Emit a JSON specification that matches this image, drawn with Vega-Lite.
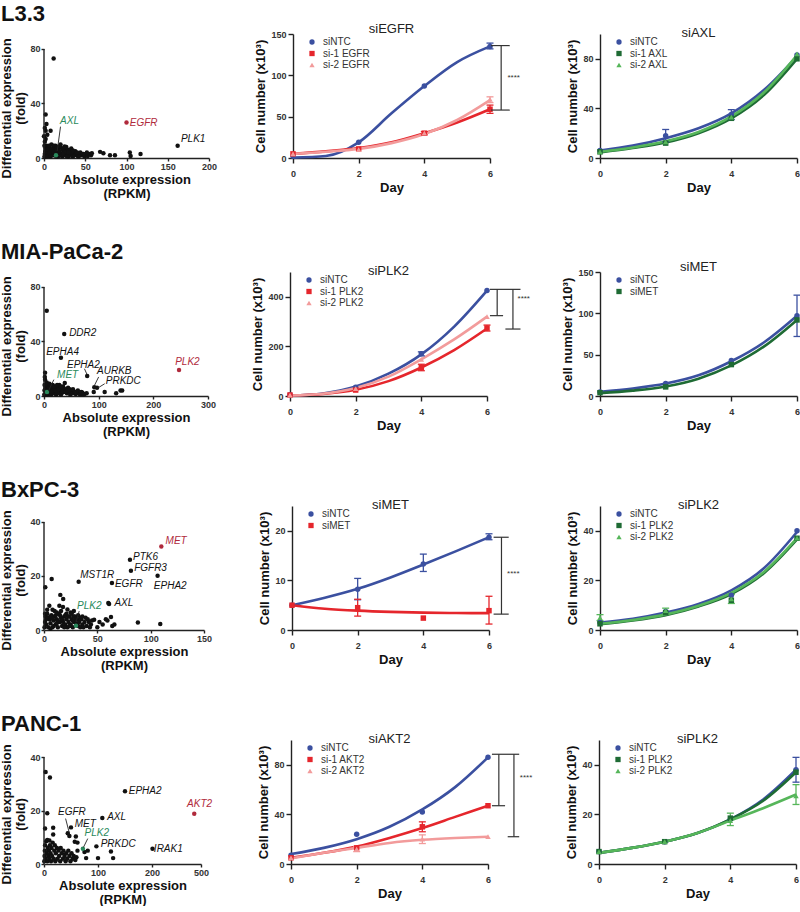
{
"$schema": "https://vega.github.io/schema/vega-lite/v6.json",
"padding": {"left": 0, "top": 3, "right": 0, "bottom": 0},
"config": {
 "font": "Liberation Sans",
 "view": {"stroke": null},
 "axis": {"labelFont": "Liberation Sans", "labelFontSize": 9, "labelFontWeight": "bold", "labelColor": "#333333", "titleFont": "Liberation Sans", "titleFontSize": 13, "titleFontWeight": "bold", "titleColor": "#111111", "domainColor": "#222222", "domainWidth": 1.4, "tickColor": "#222222", "tickWidth": 1.4, "tickSize": 4, "grid": false, "labelPadding": 2, "titlePadding": 3, "titleLineHeight": 14, "labelFlush": false, "labelOverlap": false},
 "title": {"font": "Liberation Sans", "fontSize": 13, "fontWeight": "normal", "color": "#222222", "offset": -6},
 "legend": {"labelFont": "Liberation Sans", "labelFontSize": 10, "labelColor": "#333333", "symbolSize": 28, "rowPadding": 1.5, "padding": 0, "labelOffset": 6},
 "text": {"font": "Liberation Sans"}
},
"datasets": {
 "s1": [{"x":0.5,"y":1,"r":"o"},{"x":1,"y":3,"r":"o"},{"x":1.5,"y":5,"r":"o"},{"x":2,"y":7,"r":"o"},{"x":2.5,"y":2,"r":"o"},{"x":3,"y":9,"r":"o"},{"x":4,"y":4,"r":"o"},{"x":5,"y":1.5,"r":"o"},{"x":5,"y":6,"r":"o"},{"x":6,"y":3,"r":"o"},{"x":7,"y":8,"r":"o"},{"x":8,"y":1,"r":"o"},{"x":8,"y":5,"r":"o"},{"x":9,"y":10,"r":"o"},{"x":10,"y":3,"r":"o"},{"x":11,"y":7,"r":"o"},{"x":12,"y":2,"r":"o"},{"x":13,"y":5,"r":"o"},{"x":14,"y":9,"r":"o"},{"x":15,"y":1,"r":"o"},{"x":16,"y":4,"r":"o"},{"x":17,"y":7,"r":"o"},{"x":18,"y":2,"r":"o"},{"x":19,"y":5,"r":"o"},{"x":20,"y":8,"r":"o"},{"x":21,"y":3,"r":"o"},{"x":22,"y":1,"r":"o"},{"x":23,"y":6,"r":"o"},{"x":24,"y":4,"r":"o"},{"x":25,"y":7,"r":"o"},{"x":26,"y":2,"r":"o"},{"x":27,"y":5,"r":"o"},{"x":28,"y":3,"r":"o"},{"x":29,"y":6,"r":"o"},{"x":30,"y":1,"r":"o"},{"x":31,"y":4,"r":"o"},{"x":32,"y":2.5,"r":"o"},{"x":33,"y":5,"r":"o"},{"x":34,"y":3,"r":"o"},{"x":35,"y":1,"r":"o"},{"x":36,"y":4,"r":"o"},{"x":37,"y":2,"r":"o"},{"x":39,"y":3,"r":"o"},{"x":41,"y":1.5,"r":"o"},{"x":43,"y":3.5,"r":"o"},{"x":45,"y":2,"r":"o"},{"x":47,"y":3,"r":"o"},{"x":49,"y":1,"r":"o"},{"x":51,"y":2.5,"r":"o"},{"x":53,"y":1.5,"r":"o"},{"x":55,"y":3,"r":"o"},{"x":57,"y":2,"r":"o"},{"x":3,"y":1,"r":"o"},{"x":9,"y":2,"r":"o"},{"x":15,"y":6,"r":"o"},{"x":20,"y":2.5,"r":"o"},{"x":25,"y":4,"r":"o"},{"x":4,"y":6.5,"r":"o"},{"x":6,"y":9,"r":"o"},{"x":10,"y":6,"r":"o"},{"x":12,"y":9,"r":"o"},{"x":16,"y":8,"r":"o"},{"x":18,"y":4,"r":"o"},{"x":22,"y":7,"r":"o"},{"x":24,"y":2,"r":"o"},{"x":27,"y":8,"r":"o"},{"x":30,"y":4,"r":"o"},{"x":33,"y":7,"r":"o"},{"x":38,"y":5,"r":"o"},{"x":40,"y":4,"r":"o"},{"x":44,"y":4,"r":"o"},{"x":48,"y":3,"r":"o"},{"x":52,"y":4,"r":"o"},{"x":7,"y":4,"r":"o"},{"x":11,"y":4.5,"r":"o"},{"x":14,"y":3.5,"r":"o"},{"x":17,"y":1,"r":"o"},{"x":19,"y":8.5,"r":"o"},{"x":23,"y":3,"r":"o"},{"x":28,"y":1,"r":"o"},{"x":35,"y":5.5,"r":"o"},{"x":42,"y":1,"r":"o"},{"x":0.5,"y":9,"r":"o"},{"x":1,"y":12,"r":"o"},{"x":2,"y":14,"r":"o"},{"x":0,"y":16,"r":"o"},{"x":2,"y":20,"r":"o"},{"x":1,"y":22,"r":"o"},{"x":3,"y":25,"r":"o"},{"x":2,"y":32,"r":"o"},{"x":4,"y":17,"r":"o"},{"x":8,"y":20,"r":"o"},{"x":20,"y":10,"r":"o"},{"x":25,"y":8.5,"r":"o"},{"x":58,"y":3.5,"r":"o"},{"x":68,"y":4.5,"r":"o"},{"x":72,"y":3.5,"r":"o"},{"x":80,"y":2,"r":"o"},{"x":86,"y":2,"r":"o"},{"x":104,"y":4,"r":"o"},{"x":105,"y":1.5,"r":"o"},{"x":117,"y":3,"r":"o"},{"x":162,"y":9,"r":"o"},{"x":11.7,"y":73,"r":"o"},{"x":100,"y":26,"r":"t"},{"x":14.5,"y":2,"r":"c"}],
 "s1l": [{"g":"AXL","lx":19.5,"ly":27,"r":"c"},{"g":"EGFR","lx":104,"ly":26,"r":"t"},{"g":"PLK1","lx":166,"ly":14,"r":"o"}],
 "s1k": [{"x1":20,"y1":23,"x2":16,"y2":5}],
 "s2": [{"x":0.5,"y":1,"r":"o"},{"x":1,"y":4,"r":"o"},{"x":1,"y":8,"r":"o"},{"x":2,"y":12,"r":"o"},{"x":1.5,"y":14,"r":"o"},{"x":2,"y":17,"r":"o"},{"x":3,"y":6,"r":"o"},{"x":4,"y":2,"r":"o"},{"x":5,"y":10,"r":"o"},{"x":6,"y":5,"r":"o"},{"x":7,"y":1,"r":"o"},{"x":8,"y":7,"r":"o"},{"x":9,"y":3,"r":"o"},{"x":10,"y":9,"r":"o"},{"x":12,"y":5,"r":"o"},{"x":13,"y":1,"r":"o"},{"x":14,"y":6,"r":"o"},{"x":15,"y":3,"r":"o"},{"x":16,"y":8,"r":"o"},{"x":18,"y":2,"r":"o"},{"x":19,"y":5,"r":"o"},{"x":20,"y":7,"r":"o"},{"x":22,"y":1,"r":"o"},{"x":23,"y":4,"r":"o"},{"x":25,"y":6,"r":"o"},{"x":26,"y":2,"r":"o"},{"x":28,"y":8,"r":"o"},{"x":29,"y":4,"r":"o"},{"x":30,"y":6,"r":"o"},{"x":32,"y":2,"r":"o"},{"x":33,"y":5,"r":"o"},{"x":35,"y":7,"r":"o"},{"x":36,"y":3,"r":"o"},{"x":38,"y":9.5,"r":"o"},{"x":40,"y":5,"r":"o"},{"x":42,"y":2,"r":"o"},{"x":44,"y":6,"r":"o"},{"x":46,"y":3,"r":"o"},{"x":48,"y":1,"r":"o"},{"x":50,"y":4,"r":"o"},{"x":52,"y":2,"r":"o"},{"x":55,"y":3,"r":"o"},{"x":58,"y":1.5,"r":"o"},{"x":60,"y":3,"r":"o"},{"x":63,"y":2,"r":"o"},{"x":66,"y":1,"r":"o"},{"x":70,"y":2.5,"r":"o"},{"x":74,"y":1.5,"r":"o"},{"x":78,"y":2,"r":"o"},{"x":3,"y":1,"r":"o"},{"x":11,"y":2,"r":"o"},{"x":17,"y":4,"r":"o"},{"x":24,"y":3,"r":"o"},{"x":31,"y":1,"r":"o"},{"x":37,"y":5,"r":"o"},{"x":45,"y":4,"r":"o"},{"x":2,"y":5,"r":"o"},{"x":4,"y":8,"r":"o"},{"x":6,"y":3,"r":"o"},{"x":9,"y":6,"r":"o"},{"x":11,"y":8,"r":"o"},{"x":14,"y":3,"r":"o"},{"x":17,"y":7,"r":"o"},{"x":21,"y":4,"r":"o"},{"x":24,"y":8,"r":"o"},{"x":27,"y":5,"r":"o"},{"x":31,"y":7,"r":"o"},{"x":34,"y":3,"r":"o"},{"x":39,"y":3,"r":"o"},{"x":43,"y":4,"r":"o"},{"x":47,"y":5,"r":"o"},{"x":53,"y":5,"r":"o"},{"x":57,"y":3,"r":"o"},{"x":62,"y":4,"r":"o"},{"x":68,"y":3,"r":"o"},{"x":72,"y":1,"r":"o"},{"x":91,"y":3,"r":"o"},{"x":92,"y":6.5,"r":"o"},{"x":97,"y":6,"r":"o"},{"x":111,"y":3,"r":"o"},{"x":132,"y":2,"r":"o"},{"x":140,"y":4,"r":"o"},{"x":143,"y":4,"r":"o"},{"x":5,"y":62.6,"r":"o"},{"x":37,"y":45.5,"r":"o"},{"x":31,"y":28,"r":"o"},{"x":79,"y":14.7,"r":"o"},{"x":247,"y":19,"r":"t"},{"x":5.5,"y":3,"r":"c"}],
 "s2l": [{"g":"DDR2","lx":46,"ly":46,"r":"o"},{"g":"EPHA4","lx":4,"ly":32,"r":"o"},{"g":"EPHA2","lx":42,"ly":22.5,"r":"o"},{"g":"AURKB","lx":97,"ly":18.5,"r":"o"},{"g":"PRKDC","lx":113,"ly":11,"r":"o"},{"g":"MET","lx":24,"ly":15.5,"r":"c"},{"g":"PLK2","lx":240,"ly":25,"r":"t"}],
 "s2k": [{"x1":74,"y1":20,"x2":79,"y2":15.5},{"x1":100,"y1":14,"x2":92,"y2":7.5},{"x1":111,"y1":9,"x2":99,"y2":6},{"x1":18,"y1":12,"x2":8,"y2":3.5}],
 "s3": [{"x":0.5,"y":1,"r":"o"},{"x":1,"y":3,"r":"o"},{"x":1.5,"y":5,"r":"o"},{"x":2,"y":2,"r":"o"},{"x":3,"y":6,"r":"o"},{"x":4,"y":1,"r":"o"},{"x":5,"y":4,"r":"o"},{"x":6,"y":2.5,"r":"o"},{"x":7,"y":5.5,"r":"o"},{"x":8,"y":1,"r":"o"},{"x":9,"y":3.5,"r":"o"},{"x":10,"y":5,"r":"o"},{"x":11,"y":2,"r":"o"},{"x":12,"y":4,"r":"o"},{"x":13,"y":1,"r":"o"},{"x":14,"y":6,"r":"o"},{"x":15,"y":3,"r":"o"},{"x":16,"y":4.5,"r":"o"},{"x":17,"y":1.5,"r":"o"},{"x":18,"y":3,"r":"o"},{"x":19,"y":5,"r":"o"},{"x":20,"y":2,"r":"o"},{"x":21,"y":4,"r":"o"},{"x":22,"y":1,"r":"o"},{"x":23,"y":3,"r":"o"},{"x":24,"y":5,"r":"o"},{"x":25,"y":2,"r":"o"},{"x":26,"y":4,"r":"o"},{"x":27,"y":1,"r":"o"},{"x":28,"y":3,"r":"o"},{"x":29,"y":5,"r":"o"},{"x":30,"y":2.5,"r":"o"},{"x":31,"y":4,"r":"o"},{"x":32,"y":1.5,"r":"o"},{"x":33,"y":3,"r":"o"},{"x":35,"y":4,"r":"o"},{"x":36,"y":2,"r":"o"},{"x":38,"y":3,"r":"o"},{"x":40,"y":1.5,"r":"o"},{"x":42,"y":3,"r":"o"},{"x":44,"y":2,"r":"o"},{"x":47,"y":3.8,"r":"o"},{"x":50,"y":1,"r":"o"},{"x":52,"y":3,"r":"o"},{"x":55,"y":2,"r":"o"},{"x":58,"y":4,"r":"o"},{"x":59.5,"y":3.5,"r":"o"},{"x":62.8,"y":4.8,"r":"o"},{"x":64,"y":1.5,"r":"o"},{"x":66,"y":2,"r":"o"},{"x":88,"y":2.8,"r":"o"},{"x":109,"y":2.2,"r":"o"},{"x":1.2,"y":15.8,"r":"o"},{"x":7.2,"y":18.9,"r":"o"},{"x":15.3,"y":13,"r":"o"},{"x":18,"y":11.5,"r":"o"},{"x":14.4,"y":9,"r":"o"},{"x":17.8,"y":8.5,"r":"o"},{"x":22,"y":7.6,"r":"o"},{"x":10,"y":7,"r":"o"},{"x":5,"y":9,"r":"o"},{"x":3,"y":7.5,"r":"o"},{"x":25,"y":6.5,"r":"o"},{"x":8,"y":7.5,"r":"o"},{"x":2,"y":4,"r":"o"},{"x":6,"y":0.5,"r":"o"},{"x":12,"y":2.5,"r":"o"},{"x":20,"y":5.5,"r":"o"},{"x":27,"y":3.5,"r":"o"},{"x":34,"y":1,"r":"o"},{"x":1,"y":6,"r":"o"},{"x":4,"y":4.5,"r":"o"},{"x":6,"y":5,"r":"o"},{"x":8,"y":4.2,"r":"o"},{"x":9,"y":1.5,"r":"o"},{"x":11,"y":5.5,"r":"o"},{"x":13,"y":3.5,"r":"o"},{"x":15,"y":5.5,"r":"o"},{"x":17,"y":3.8,"r":"o"},{"x":19,"y":1,"r":"o"},{"x":21,"y":6,"r":"o"},{"x":23,"y":5,"r":"o"},{"x":24,"y":1.5,"r":"o"},{"x":26,"y":6,"r":"o"},{"x":28,"y":5,"r":"o"},{"x":30,"y":4.2,"r":"o"},{"x":32,"y":5.5,"r":"o"},{"x":34,"y":4.5,"r":"o"},{"x":36,"y":5,"r":"o"},{"x":37,"y":1,"r":"o"},{"x":39,"y":4.5,"r":"o"},{"x":41,"y":4,"r":"o"},{"x":43,"y":1,"r":"o"},{"x":45,"y":3.5,"r":"o"},{"x":16,"y":7,"r":"o"},{"x":12,"y":6.5,"r":"o"},{"x":28,"y":7,"r":"o"},{"x":80.6,"y":26,"r":"o"},{"x":81.5,"y":21.9,"r":"o"},{"x":106.5,"y":20.1,"r":"o"},{"x":32.5,"y":17.9,"r":"o"},{"x":63.7,"y":17.4,"r":"o"},{"x":60.3,"y":10,"r":"o"},{"x":61,"y":9.6,"r":"o"},{"x":110,"y":30.9,"r":"t"},{"x":30,"y":1.6,"r":"c"}],
 "s3l": [{"g":"MET","lx":114,"ly":33,"r":"t"},{"g":"PTK6","lx":83.5,"ly":27,"r":"o"},{"g":"FGFR3","lx":84.5,"ly":23,"r":"o"},{"g":"EPHA2","lx":103,"ly":16.3,"r":"o"},{"g":"MST1R","lx":34,"ly":20.5,"r":"o"},{"g":"EGFR","lx":66.5,"ly":17,"r":"o"},{"g":"AXL","lx":66,"ly":10,"r":"o"},{"g":"PLK2","lx":31,"ly":9,"r":"c"}],
 "s3k": [{"x1":33,"y1":7,"x2":30,"y2":3}],
 "s4": [{"x":0.5,"y":1,"r":"o"},{"x":1,"y":3,"r":"o"},{"x":1.5,"y":5,"r":"o"},{"x":2,"y":7,"r":"o"},{"x":3,"y":2,"r":"o"},{"x":4,"y":8.5,"r":"o"},{"x":5,"y":4,"r":"o"},{"x":6,"y":1,"r":"o"},{"x":7,"y":6,"r":"o"},{"x":8,"y":3,"r":"o"},{"x":9,"y":5,"r":"o"},{"x":10,"y":2,"r":"o"},{"x":11,"y":7,"r":"o"},{"x":12,"y":4,"r":"o"},{"x":13,"y":1,"r":"o"},{"x":14,"y":6,"r":"o"},{"x":15,"y":3,"r":"o"},{"x":16,"y":8,"r":"o"},{"x":18,"y":2,"r":"o"},{"x":19,"y":5,"r":"o"},{"x":20,"y":7,"r":"o"},{"x":21,"y":1,"r":"o"},{"x":22,"y":4,"r":"o"},{"x":24,"y":6,"r":"o"},{"x":25,"y":2,"r":"o"},{"x":27,"y":5,"r":"o"},{"x":28,"y":3,"r":"o"},{"x":30,"y":1,"r":"o"},{"x":31,"y":6,"r":"o"},{"x":33,"y":4,"r":"o"},{"x":35,"y":2,"r":"o"},{"x":36,"y":5,"r":"o"},{"x":38,"y":3,"r":"o"},{"x":40,"y":1,"r":"o"},{"x":41,"y":4,"r":"o"},{"x":43,"y":2,"r":"o"},{"x":45,"y":5,"r":"o"},{"x":47,"y":3,"r":"o"},{"x":49,"y":1,"r":"o"},{"x":51,"y":4,"r":"o"},{"x":53,"y":2,"r":"o"},{"x":55,"y":3,"r":"o"},{"x":58,"y":1.5,"r":"o"},{"x":60,"y":2.5,"r":"o"},{"x":62,"y":5,"r":"o"},{"x":3,"y":34.4,"r":"o"},{"x":11,"y":32.4,"r":"o"},{"x":6,"y":19,"r":"o"},{"x":2,"y":13.3,"r":"o"},{"x":17,"y":13.6,"r":"o"},{"x":17,"y":11,"r":"o"},{"x":6,"y":9,"r":"o"},{"x":10,"y":8.8,"r":"o"},{"x":47,"y":10.5,"r":"o"},{"x":59,"y":10.3,"r":"o"},{"x":62,"y":8,"r":"o"},{"x":57,"y":8.3,"r":"o"},{"x":81,"y":5,"r":"o"},{"x":78,"y":2.2,"r":"o"},{"x":100,"y":2.2,"r":"o"},{"x":124,"y":4.7,"r":"o"},{"x":128,"y":2.2,"r":"o"},{"x":75,"y":4.5,"r":"o"},{"x":150,"y":27.2,"r":"o"},{"x":108,"y":17.2,"r":"o"},{"x":50,"y":13.7,"r":"o"},{"x":44,"y":11.5,"r":"o"},{"x":97,"y":6.6,"r":"o"},{"x":203,"y":5.7,"r":"o"},{"x":455,"y":18.8,"r":"t"},{"x":72,"y":5.7,"r":"c"}],
 "s4l": [{"g":"EPHA2","lx":157,"ly":27.5,"r":"o"},{"g":"AKT2","lx":407,"ly":22.5,"r":"t"},{"g":"AXL","lx":117,"ly":17.5,"r":"o"},{"g":"MET","lx":57,"ly":15,"r":"o"},{"g":"EGFR","lx":26,"ly":19.5,"r":"o"},{"g":"PLK2","lx":75,"ly":11.6,"r":"c"},{"g":"PRKDC","lx":105,"ly":7.3,"r":"o"},{"g":"IRAK1","lx":211,"ly":5.6,"r":"o"}],
 "s4k": [{"x1":40,"y1":17,"x2":47,"y2":11.5},{"x1":81,"y1":9.5,"x2":73,"y2":6.2}],
 "g1": [{"s":"siNTC","d":0,"f":0.5,"m":2},{"s":"siNTC","d":1,"f":2.5},{"s":"siNTC","d":2,"f":19,"m":19},{"s":"siNTC","d":3,"f":54},{"s":"siNTC","d":4,"f":87,"m":87},{"s":"siNTC","d":5,"f":116},{"s":"siNTC","d":6,"f":135,"m":135,"lo":132,"hi":139},{"s":"si-1 EGFR","d":0,"f":5,"m":5},{"s":"si-1 EGFR","d":1,"f":8},{"s":"si-1 EGFR","d":2,"f":12,"m":11},{"s":"si-1 EGFR","d":3,"f":19},{"s":"si-1 EGFR","d":4,"f":30,"m":30,"lo":28,"hi":32},{"s":"si-1 EGFR","d":5,"f":43},{"s":"si-1 EGFR","d":6,"f":59,"m":59,"lo":54,"hi":64},{"s":"si-2 EGFR","d":0,"f":5,"m":5},{"s":"si-2 EGFR","d":1,"f":7.5},{"s":"si-2 EGFR","d":2,"f":11,"m":10},{"s":"si-2 EGFR","d":3,"f":18},{"s":"si-2 EGFR","d":4,"f":29,"m":30},{"s":"si-2 EGFR","d":5,"f":46},{"s":"si-2 EGFR","d":6,"f":70,"m":71,"lo":67,"hi":74}],
 "g2": [{"s":"siNTC","d":0,"f":6,"m":6},{"s":"siNTC","d":1,"f":10},{"s":"siNTC","d":2,"f":16,"m":18,"lo":13,"hi":23},{"s":"siNTC","d":3,"f":24},{"s":"siNTC","d":4,"f":36,"m":35,"lo":31,"hi":39},{"s":"siNTC","d":5,"f":55},{"s":"siNTC","d":6,"f":82,"m":83},{"s":"si-1 AXL","d":0,"f":4.5,"m":5},{"s":"si-1 AXL","d":1,"f":8},{"s":"si-1 AXL","d":2,"f":12.5,"m":12},{"s":"si-1 AXL","d":3,"f":20},{"s":"si-1 AXL","d":4,"f":32,"m":32},{"s":"si-1 AXL","d":5,"f":51},{"s":"si-1 AXL","d":6,"f":80,"m":80},{"s":"si-2 AXL","d":0,"f":5,"m":5},{"s":"si-2 AXL","d":1,"f":8.5},{"s":"si-2 AXL","d":2,"f":13.5,"m":13},{"s":"si-2 AXL","d":3,"f":21},{"s":"si-2 AXL","d":4,"f":33.5,"m":33},{"s":"si-2 AXL","d":5,"f":53},{"s":"si-2 AXL","d":6,"f":83,"m":84}],
 "g3": [{"s":"siNTC","d":0,"f":1,"m":5},{"s":"siNTC","d":1,"f":10},{"s":"siNTC","d":2,"f":38,"m":35},{"s":"siNTC","d":3,"f":90},{"s":"siNTC","d":4,"f":168,"m":170,"lo":162,"hi":178},{"s":"siNTC","d":5,"f":280},{"s":"siNTC","d":6,"f":425,"m":425},{"s":"si-1 PLK2","d":0,"f":2,"m":4},{"s":"si-1 PLK2","d":1,"f":8},{"s":"si-1 PLK2","d":2,"f":25,"m":24},{"s":"si-1 PLK2","d":3,"f":60},{"s":"si-1 PLK2","d":4,"f":115,"m":115,"lo":102,"hi":128},{"s":"si-1 PLK2","d":5,"f":185},{"s":"si-1 PLK2","d":6,"f":272,"m":274,"lo":262,"hi":286},{"s":"si-2 PLK2","d":0,"f":2,"m":4},{"s":"si-2 PLK2","d":1,"f":9},{"s":"si-2 PLK2","d":2,"f":32,"m":30},{"s":"si-2 PLK2","d":3,"f":78},{"s":"si-2 PLK2","d":4,"f":148,"m":148},{"s":"si-2 PLK2","d":5,"f":228},{"s":"si-2 PLK2","d":6,"f":320,"m":320}],
 "g4": [{"s":"siNTC","d":0,"f":5,"m":5},{"s":"siNTC","d":1,"f":9},{"s":"siNTC","d":2,"f":15,"m":15},{"s":"siNTC","d":3,"f":25},{"s":"siNTC","d":4,"f":42,"m":43},{"s":"siNTC","d":5,"f":65},{"s":"siNTC","d":6,"f":97,"m":97,"lo":72,"hi":122},{"s":"siMET","d":0,"f":3.5,"m":4},{"s":"siMET","d":1,"f":6.5},{"s":"siMET","d":2,"f":11.5,"m":11},{"s":"siMET","d":3,"f":21},{"s":"siMET","d":4,"f":37,"m":38},{"s":"siMET","d":5,"f":60},{"s":"siMET","d":6,"f":92,"m":92}],
 "g5": [{"s":"siNTC","d":0,"f":5,"m":5},{"s":"siNTC","d":1,"f":6.5},{"s":"siNTC","d":2,"f":8.3,"m":8.2,"lo":6.1,"hi":10.4},{"s":"siNTC","d":3,"f":10.6},{"s":"siNTC","d":4,"f":13.2,"m":13.3,"lo":11.8,"hi":15.3},{"s":"siNTC","d":5,"f":15.9},{"s":"siNTC","d":6,"f":18.7,"m":18.7,"lo":18.2,"hi":19.4},{"s":"siMET","d":0,"f":5,"m":5},{"s":"siMET","d":1,"f":4.3},{"s":"siMET","d":2,"f":3.9,"m":4.5,"lo":2.8,"hi":6.2},{"s":"siMET","d":3,"f":3.65},{"s":"siMET","d":4,"f":3.5,"m":2.4},{"s":"siMET","d":5,"f":3.42},{"s":"siMET","d":6,"f":3.4,"m":3.9,"lo":1.2,"hi":6.8}],
 "g6": [{"s":"siNTC","d":0,"f":3,"m":3},{"s":"siNTC","d":1,"f":4.5},{"s":"siNTC","d":2,"f":7,"m":7.5},{"s":"siNTC","d":3,"f":10.5},{"s":"siNTC","d":4,"f":16,"m":14},{"s":"siNTC","d":5,"f":25},{"s":"siNTC","d":6,"f":39.5,"m":40},{"s":"si-1 PLK2","d":0,"f":2.3,"m":2.5},{"s":"si-1 PLK2","d":1,"f":3.8},{"s":"si-1 PLK2","d":2,"f":6,"m":7},{"s":"si-1 PLK2","d":3,"f":9.5},{"s":"si-1 PLK2","d":4,"f":14.5,"m":12},{"s":"si-1 PLK2","d":5,"f":23},{"s":"si-1 PLK2","d":6,"f":36.5,"m":37},{"s":"si-2 PLK2","d":0,"f":2.5,"m":5,"lo":3.8,"hi":6.2},{"s":"si-2 PLK2","d":1,"f":4},{"s":"si-2 PLK2","d":2,"f":6.3,"m":7.8,"lo":6.5,"hi":8.8},{"s":"si-2 PLK2","d":3,"f":9.8},{"s":"si-2 PLK2","d":4,"f":15,"m":12.5,"lo":10.7,"hi":14.3},{"s":"si-2 PLK2","d":5,"f":23.5},{"s":"si-2 PLK2","d":6,"f":37,"m":37}],
 "g7": [{"s":"siNTC","d":0,"f":8,"m":7},{"s":"siNTC","d":1,"f":13},{"s":"siNTC","d":2,"f":20,"m":24},{"s":"siNTC","d":3,"f":30},{"s":"siNTC","d":4,"f":44,"m":42},{"s":"siNTC","d":5,"f":62},{"s":"siNTC","d":6,"f":86,"m":86},{"s":"si-1 AKT2","d":0,"f":5,"m":5},{"s":"si-1 AKT2","d":1,"f":9},{"s":"si-1 AKT2","d":2,"f":14,"m":13},{"s":"si-1 AKT2","d":3,"f":21},{"s":"si-1 AKT2","d":4,"f":29,"m":30,"lo":26,"hi":34},{"s":"si-1 AKT2","d":5,"f":38},{"s":"si-1 AKT2","d":6,"f":47,"m":47},{"s":"si-2 AKT2","d":0,"f":4.5,"m":5},{"s":"si-2 AKT2","d":1,"f":9},{"s":"si-2 AKT2","d":2,"f":13,"m":12,"lo":10,"hi":14},{"s":"si-2 AKT2","d":3,"f":17},{"s":"si-2 AKT2","d":4,"f":19.5,"m":20,"lo":16.5,"hi":23.5},{"s":"si-2 AKT2","d":5,"f":21},{"s":"si-2 AKT2","d":6,"f":22,"m":22}],
 "g8": [{"s":"siNTC","d":0,"f":4.5,"m":5},{"s":"siNTC","d":1,"f":6.5},{"s":"siNTC","d":2,"f":9,"m":9},{"s":"siNTC","d":3,"f":12.5},{"s":"siNTC","d":4,"f":18,"m":18},{"s":"siNTC","d":5,"f":26},{"s":"siNTC","d":6,"f":38,"m":38,"lo":33,"hi":43},{"s":"si-1 PLK2","d":0,"f":4.5,"m":5},{"s":"si-1 PLK2","d":1,"f":6.5},{"s":"si-1 PLK2","d":2,"f":9,"m":9},{"s":"si-1 PLK2","d":3,"f":12.5},{"s":"si-1 PLK2","d":4,"f":18,"m":18.5},{"s":"si-1 PLK2","d":5,"f":25.5},{"s":"si-1 PLK2","d":6,"f":37,"m":37},{"s":"si-2 PLK2","d":0,"f":4.5,"m":5},{"s":"si-2 PLK2","d":1,"f":6.5},{"s":"si-2 PLK2","d":2,"f":9,"m":9},{"s":"si-2 PLK2","d":3,"f":12.5},{"s":"si-2 PLK2","d":4,"f":17.5,"m":17.5,"lo":15.5,"hi":20.5},{"s":"si-2 PLK2","d":5,"f":22.5},{"s":"si-2 PLK2","d":6,"f":28,"m":27.5,"lo":24,"hi":32}]
},
"spacing": 41,
"resolve": {"scale": {"color": "independent", "shape": "independent", "stroke": "independent"}},
"vconcat": [
{
 "title": {"text": "L3.3", "anchor": "start", "fontSize": 22, "fontWeight": "bold", "color": "#111111", "offset": -3},
 "spacing": 37,
 "resolve": {"scale": {"color": "independent", "shape": "independent", "stroke": "independent"}},
 "hconcat": [
  {"width": 165, "height": 124,
   "layer": [
    {"data": {"name": "s1"}, "mark": {"type": "circle", "size": 20, "opacity": 1},
     "encoding": {"x": {"field": "x", "type": "quantitative", "title": ["Absolute expression", "(RPKM)"], "scale": {"domain": [0, 200], "nice": false}, "axis": {"values": [0, 50, 100, 150, 200], "labelOverlap": false, "tickSize": 3, "labelPadding": 1, "titlePadding": 2, "titleLineHeight": 14}},
      "y": {"field": "y", "type": "quantitative", "title": ["Differential expression", "(fold)"], "scale": {"domain": [0, 91], "nice": false}, "axis": {"values": [0, 20, 40, 60, 80], "domain": false, "labelOverlap": false, "tickSize": 3, "labelPadding": 1, "titlePadding": 2, "titleY": 74}},
      "color": {"field": "r", "type": "nominal", "scale": {"domain": ["o", "t", "c"], "range": ["#111111", "#b02a3c", "#2a8a5c"]}, "legend": null}}},
    {"data": {"values": [{}]}, "mark": {"type": "rule", "color": "#222222", "strokeWidth": 1.4}, "encoding": {"x": {"datum": 0}, "y": {"datum": 0}, "y2": {"datum": 80}}},
    {"data": {"name": "s1k"}, "mark": {"type": "rule", "color": "#222222", "strokeWidth": 0.9},
     "encoding": {"x": {"field": "x1", "type": "quantitative", "title": ["Absolute expression", "(RPKM)"]}, "y": {"field": "y1", "type": "quantitative", "title": ["Differential expression", "(fold)"]}, "x2": {"field": "x2"}, "y2": {"field": "y2"}}},
    {"data": {"name": "s1l"}, "mark": {"type": "text", "fontSize": 10, "fontStyle": "italic", "align": "left", "baseline": "middle"},
     "encoding": {"x": {"field": "lx", "type": "quantitative", "title": ["Absolute expression", "(RPKM)"]}, "y": {"field": "ly", "type": "quantitative", "title": ["Differential expression", "(fold)"]}, "text": {"field": "g"}, "color": {"field": "r", "type": "nominal", "legend": null}}}
   ]},
  {"spacing": 46,
   "resolve": {"scale": {"color": "independent", "shape": "independent", "stroke": "independent"}},
   "hconcat": [
    {"width": 197, "height": 124, "title": {"text": "siEGFR"}, "data": {"name": "g1"},
     "layer": [
      {"mark": {"type": "line", "strokeWidth": 2.6, "interpolate": "monotone"}, "encoding": {"x": {"field": "d", "type": "quantitative", "title": "Day", "scale": {"domain": [0, 6], "nice": false, "zero": false}, "axis": {"values": [0, 2, 4, 6], "labelPadding": 6, "tickSize": 5, "labelOverlap": false}}, "y": {"field": "f", "type": "quantitative", "title": "Cell number (x10³)", "scale": {"domain": [0, 150], "nice": false}, "axis": {"values": [0, 50, 100, 150], "tickSize": 5, "labelOverlap": false}}, "stroke": {"field": "s", "type": "nominal", "scale": {"domain": ["si-2 EGFR", "si-1 EGFR", "siNTC"], "range": ["#f29b9b", "#e5262c", "#3b50a0"]}, "legend": null}}},
      {"transform": [{"filter": "isValid(datum.lo)"}], "mark": {"type": "rule", "strokeWidth": 1.3}, "encoding": {"x": {"field": "d", "type": "quantitative", "title": "Day"}, "y": {"field": "lo", "type": "quantitative", "title": "Cell number (x10³)"}, "y2": {"field": "hi"}, "stroke": {"field": "s", "type": "nominal", "legend": null}}},
      {"transform": [{"filter": "isValid(datum.lo)"}], "mark": {"type": "rule", "strokeWidth": 1.3, "xOffset": -3.5, "x2Offset": 3.5}, "encoding": {"x": {"field": "d", "type": "quantitative", "title": "Day"}, "x2": {"field": "d"}, "y": {"field": "lo", "type": "quantitative", "title": "Cell number (x10³)"}, "stroke": {"field": "s", "type": "nominal", "legend": null}}},
      {"transform": [{"filter": "isValid(datum.lo)"}], "mark": {"type": "rule", "strokeWidth": 1.3, "xOffset": -3.5, "x2Offset": 3.5}, "encoding": {"x": {"field": "d", "type": "quantitative", "title": "Day"}, "x2": {"field": "d"}, "y": {"field": "hi", "type": "quantitative", "title": "Cell number (x10³)"}, "stroke": {"field": "s", "type": "nominal", "legend": null}}},
      {"transform": [{"filter": "isValid(datum.m)"}], "mark": {"type": "point", "filled": true, "size": 30, "opacity": 1}, "encoding": {"x": {"field": "d", "type": "quantitative", "title": "Day"}, "y": {"field": "m", "type": "quantitative", "title": "Cell number (x10³)"}, "color": {"field": "s", "type": "nominal", "title": null, "scale": {"domain": ["siNTC", "si-1 EGFR", "si-2 EGFR"], "range": ["#3b50a0", "#e5262c", "#f29b9b"]}, "legend": {"orient": "none", "legendX": 14, "legendY": 3}}, "shape": {"field": "s", "type": "nominal", "title": null, "scale": {"domain": ["siNTC", "si-1 EGFR", "si-2 EGFR"], "range": ["circle", "square", "triangle-up"]}}}},
      {"data": {"values": [{}]}, "mark": {"type": "rule", "color": "#333333", "strokeWidth": 1.2}, "encoding": {"x": {"datum": 6.34}, "y": {"datum": 136}, "y2": {"datum": 58}}},
      {"data": {"values": [{}]}, "mark": {"type": "rule", "color": "#333333", "strokeWidth": 1.2}, "encoding": {"x": {"datum": 6.03}, "x2": {"datum": 6.6}, "y": {"datum": 136}}},
      {"data": {"values": [{}]}, "mark": {"type": "rule", "color": "#333333", "strokeWidth": 1.2}, "encoding": {"x": {"datum": 6.03}, "x2": {"datum": 6.6}, "y": {"datum": 58}}},
      {"data": {"values": [{}]}, "mark": {"type": "text", "fontSize": 8, "align": "left", "baseline": "middle", "color": "#333333"}, "encoding": {"x": {"datum": 6.53}, "y": {"datum": 97}, "text": {"value": "****"}}}
     ]},
    {"width": 197, "height": 124, "title": {"text": "siAXL"}, "data": {"name": "g2"},
     "layer": [
      {"mark": {"type": "line", "strokeWidth": 2.6, "interpolate": "monotone"}, "encoding": {"x": {"field": "d", "type": "quantitative", "title": "Day", "scale": {"domain": [0, 6], "nice": false, "zero": false}, "axis": {"values": [0, 2, 4, 6], "labelPadding": 6, "tickSize": 5, "labelOverlap": false}}, "y": {"field": "f", "type": "quantitative", "title": "Cell number (x10³)", "scale": {"domain": [0, 100], "nice": false}, "axis": {"values": [0, 20, 40, 60, 80, 100], "tickSize": 5, "labelOverlap": false}}, "stroke": {"field": "s", "type": "nominal", "scale": {"domain": ["si-2 AXL", "si-1 AXL", "siNTC"], "range": ["#56b65a", "#1e6b34", "#3b50a0"]}, "legend": null}}},
      {"transform": [{"filter": "isValid(datum.lo)"}], "mark": {"type": "rule", "strokeWidth": 1.3}, "encoding": {"x": {"field": "d", "type": "quantitative", "title": "Day"}, "y": {"field": "lo", "type": "quantitative", "title": "Cell number (x10³)"}, "y2": {"field": "hi"}, "stroke": {"field": "s", "type": "nominal", "legend": null}}},
      {"transform": [{"filter": "isValid(datum.lo)"}], "mark": {"type": "rule", "strokeWidth": 1.3, "xOffset": -3.5, "x2Offset": 3.5}, "encoding": {"x": {"field": "d", "type": "quantitative", "title": "Day"}, "x2": {"field": "d"}, "y": {"field": "lo", "type": "quantitative", "title": "Cell number (x10³)"}, "stroke": {"field": "s", "type": "nominal", "legend": null}}},
      {"transform": [{"filter": "isValid(datum.lo)"}], "mark": {"type": "rule", "strokeWidth": 1.3, "xOffset": -3.5, "x2Offset": 3.5}, "encoding": {"x": {"field": "d", "type": "quantitative", "title": "Day"}, "x2": {"field": "d"}, "y": {"field": "hi", "type": "quantitative", "title": "Cell number (x10³)"}, "stroke": {"field": "s", "type": "nominal", "legend": null}}},
      {"transform": [{"filter": "isValid(datum.m)"}], "mark": {"type": "point", "filled": true, "size": 30, "opacity": 1}, "encoding": {"x": {"field": "d", "type": "quantitative", "title": "Day"}, "y": {"field": "m", "type": "quantitative", "title": "Cell number (x10³)"}, "color": {"field": "s", "type": "nominal", "title": null, "scale": {"domain": ["siNTC", "si-1 AXL", "si-2 AXL"], "range": ["#3b50a0", "#1e6b34", "#56b65a"]}, "legend": {"orient": "none", "legendX": 14, "legendY": 3}}, "shape": {"field": "s", "type": "nominal", "title": null, "scale": {"domain": ["siNTC", "si-1 AXL", "si-2 AXL"], "range": ["circle", "square", "triangle-up"]}}}}
     ]}
   ]}
 ]
},
{
 "title": {"text": "MIA-PaCa-2", "anchor": "start", "fontSize": 22, "fontWeight": "bold", "color": "#111111", "offset": -3},
 "spacing": 35,
 "resolve": {"scale": {"color": "independent", "shape": "independent", "stroke": "independent"}},
 "hconcat": [
  {"width": 164, "height": 124,
   "layer": [
    {"data": {"name": "s2"}, "mark": {"type": "circle", "size": 20, "opacity": 1},
     "encoding": {"x": {"field": "x", "type": "quantitative", "title": ["Absolute expression", "(RPKM)"], "scale": {"domain": [0, 300], "nice": false}, "axis": {"values": [0, 100, 200, 300], "labelOverlap": false, "tickSize": 3, "labelPadding": 1, "titlePadding": 2, "titleLineHeight": 14}},
      "y": {"field": "y", "type": "quantitative", "title": ["Differential expression", "(fold)"], "scale": {"domain": [0, 91], "nice": false}, "axis": {"values": [0, 20, 40, 60, 80], "domain": false, "labelOverlap": false, "tickSize": 3, "labelPadding": 1, "titlePadding": 2, "titleY": 74}},
      "color": {"field": "r", "type": "nominal", "scale": {"domain": ["o", "t", "c"], "range": ["#111111", "#b02a3c", "#2a8a5c"]}, "legend": null}}},
    {"data": {"values": [{}]}, "mark": {"type": "rule", "color": "#222222", "strokeWidth": 1.4}, "encoding": {"x": {"datum": 0}, "y": {"datum": 0}, "y2": {"datum": 80}}},
    {"data": {"name": "s2k"}, "mark": {"type": "rule", "color": "#222222", "strokeWidth": 0.9},
     "encoding": {"x": {"field": "x1", "type": "quantitative", "title": ["Absolute expression", "(RPKM)"]}, "y": {"field": "y1", "type": "quantitative", "title": ["Differential expression", "(fold)"]}, "x2": {"field": "x2"}, "y2": {"field": "y2"}}},
    {"data": {"name": "s2l"}, "mark": {"type": "text", "fontSize": 10, "fontStyle": "italic", "align": "left", "baseline": "middle"},
     "encoding": {"x": {"field": "lx", "type": "quantitative", "title": ["Absolute expression", "(RPKM)"]}, "y": {"field": "ly", "type": "quantitative", "title": ["Differential expression", "(fold)"]}, "text": {"field": "g"}, "color": {"field": "r", "type": "nominal", "legend": null}}}
   ]},
  {"spacing": 31,
   "resolve": {"scale": {"color": "independent", "shape": "independent", "stroke": "independent"}},
   "hconcat": [
    {"width": 197, "height": 124, "title": {"text": "siPLK2"}, "data": {"name": "g3"},
     "layer": [
      {"mark": {"type": "line", "strokeWidth": 2.6, "interpolate": "monotone"}, "encoding": {"x": {"field": "d", "type": "quantitative", "title": "Day", "scale": {"domain": [0, 6], "nice": false, "zero": false}, "axis": {"values": [0, 2, 4, 6], "labelPadding": 6, "tickSize": 5, "labelOverlap": false}}, "y": {"field": "f", "type": "quantitative", "title": "Cell number (x10³)", "scale": {"domain": [0, 500], "nice": false}, "axis": {"values": [0, 100, 200, 300, 400, 500], "tickSize": 5, "labelOverlap": false}}, "stroke": {"field": "s", "type": "nominal", "scale": {"domain": ["si-2 PLK2", "si-1 PLK2", "siNTC"], "range": ["#f29b9b", "#e5262c", "#3b50a0"]}, "legend": null}}},
      {"transform": [{"filter": "isValid(datum.lo)"}], "mark": {"type": "rule", "strokeWidth": 1.3}, "encoding": {"x": {"field": "d", "type": "quantitative", "title": "Day"}, "y": {"field": "lo", "type": "quantitative", "title": "Cell number (x10³)"}, "y2": {"field": "hi"}, "stroke": {"field": "s", "type": "nominal", "legend": null}}},
      {"transform": [{"filter": "isValid(datum.lo)"}], "mark": {"type": "rule", "strokeWidth": 1.3, "xOffset": -3.5, "x2Offset": 3.5}, "encoding": {"x": {"field": "d", "type": "quantitative", "title": "Day"}, "x2": {"field": "d"}, "y": {"field": "lo", "type": "quantitative", "title": "Cell number (x10³)"}, "stroke": {"field": "s", "type": "nominal", "legend": null}}},
      {"transform": [{"filter": "isValid(datum.lo)"}], "mark": {"type": "rule", "strokeWidth": 1.3, "xOffset": -3.5, "x2Offset": 3.5}, "encoding": {"x": {"field": "d", "type": "quantitative", "title": "Day"}, "x2": {"field": "d"}, "y": {"field": "hi", "type": "quantitative", "title": "Cell number (x10³)"}, "stroke": {"field": "s", "type": "nominal", "legend": null}}},
      {"transform": [{"filter": "isValid(datum.m)"}], "mark": {"type": "point", "filled": true, "size": 30, "opacity": 1}, "encoding": {"x": {"field": "d", "type": "quantitative", "title": "Day"}, "y": {"field": "m", "type": "quantitative", "title": "Cell number (x10³)"}, "color": {"field": "s", "type": "nominal", "title": null, "scale": {"domain": ["siNTC", "si-1 PLK2", "si-2 PLK2"], "range": ["#3b50a0", "#e5262c", "#f29b9b"]}, "legend": {"orient": "none", "legendX": 14, "legendY": 3}}, "shape": {"field": "s", "type": "nominal", "title": null, "scale": {"domain": ["siNTC", "si-1 PLK2", "si-2 PLK2"], "range": ["circle", "square", "triangle-up"]}}}},
      {"data": {"values": [{}]}, "mark": {"type": "rule", "color": "#333333", "strokeWidth": 1.2}, "encoding": {"x": {"datum": 6.09}, "x2": {"datum": 7.02}, "y": {"datum": 430}}},
      {"data": {"values": [{}]}, "mark": {"type": "rule", "color": "#333333", "strokeWidth": 1.2}, "encoding": {"x": {"datum": 6.31}, "y": {"datum": 430}, "y2": {"datum": 324}}},
      {"data": {"values": [{}]}, "mark": {"type": "rule", "color": "#333333", "strokeWidth": 1.2}, "encoding": {"x": {"datum": 6.09}, "x2": {"datum": 6.49}, "y": {"datum": 324}}},
      {"data": {"values": [{}]}, "mark": {"type": "rule", "color": "#333333", "strokeWidth": 1.2}, "encoding": {"x": {"datum": 6.79}, "y": {"datum": 430}, "y2": {"datum": 270}}},
      {"data": {"values": [{}]}, "mark": {"type": "rule", "color": "#333333", "strokeWidth": 1.2}, "encoding": {"x": {"datum": 6.56}, "x2": {"datum": 7.02}, "y": {"datum": 270}}},
      {"data": {"values": [{}]}, "mark": {"type": "text", "fontSize": 8, "align": "left", "baseline": "middle", "color": "#333333"}, "encoding": {"x": {"datum": 6.93}, "y": {"datum": 390}, "text": {"value": "****"}}}
     ]},
    {"width": 197, "height": 124, "title": {"text": "siMET"}, "data": {"name": "g4"},
     "layer": [
      {"mark": {"type": "line", "strokeWidth": 2.6, "interpolate": "monotone"}, "encoding": {"x": {"field": "d", "type": "quantitative", "title": "Day", "scale": {"domain": [0, 6], "nice": false, "zero": false}, "axis": {"values": [0, 2, 4, 6], "labelPadding": 6, "tickSize": 5, "labelOverlap": false}}, "y": {"field": "f", "type": "quantitative", "title": "Cell number (x10³)", "scale": {"domain": [0, 150], "nice": false}, "axis": {"values": [0, 50, 100, 150], "tickSize": 5, "labelOverlap": false}}, "stroke": {"field": "s", "type": "nominal", "scale": {"domain": ["siMET", "siNTC"], "range": ["#1e6b34", "#3b50a0"]}, "legend": null}}},
      {"transform": [{"filter": "isValid(datum.lo)"}], "mark": {"type": "rule", "strokeWidth": 1.3}, "encoding": {"x": {"field": "d", "type": "quantitative", "title": "Day"}, "y": {"field": "lo", "type": "quantitative", "title": "Cell number (x10³)"}, "y2": {"field": "hi"}, "stroke": {"field": "s", "type": "nominal", "legend": null}}},
      {"transform": [{"filter": "isValid(datum.lo)"}], "mark": {"type": "rule", "strokeWidth": 1.3, "xOffset": -3.5, "x2Offset": 3.5}, "encoding": {"x": {"field": "d", "type": "quantitative", "title": "Day"}, "x2": {"field": "d"}, "y": {"field": "lo", "type": "quantitative", "title": "Cell number (x10³)"}, "stroke": {"field": "s", "type": "nominal", "legend": null}}},
      {"transform": [{"filter": "isValid(datum.lo)"}], "mark": {"type": "rule", "strokeWidth": 1.3, "xOffset": -3.5, "x2Offset": 3.5}, "encoding": {"x": {"field": "d", "type": "quantitative", "title": "Day"}, "x2": {"field": "d"}, "y": {"field": "hi", "type": "quantitative", "title": "Cell number (x10³)"}, "stroke": {"field": "s", "type": "nominal", "legend": null}}},
      {"transform": [{"filter": "isValid(datum.m)"}], "mark": {"type": "point", "filled": true, "size": 30, "opacity": 1}, "encoding": {"x": {"field": "d", "type": "quantitative", "title": "Day"}, "y": {"field": "m", "type": "quantitative", "title": "Cell number (x10³)"}, "color": {"field": "s", "type": "nominal", "title": null, "scale": {"domain": ["siNTC", "siMET"], "range": ["#3b50a0", "#1e6b34"]}, "legend": {"orient": "none", "legendX": 14, "legendY": 3}}, "shape": {"field": "s", "type": "nominal", "title": null, "scale": {"domain": ["siNTC", "siMET"], "range": ["circle", "square"]}}}}
     ]}
   ]}
 ]
},
{
 "title": {"text": "BxPC-3", "anchor": "start", "fontSize": 22, "fontWeight": "bold", "color": "#111111", "offset": -3},
 "spacing": 46,
 "resolve": {"scale": {"color": "independent", "shape": "independent", "stroke": "independent"}},
 "hconcat": [
  {"width": 160, "height": 124,
   "layer": [
    {"data": {"name": "s3"}, "mark": {"type": "circle", "size": 20, "opacity": 1},
     "encoding": {"x": {"field": "x", "type": "quantitative", "title": ["Absolute expression", "(RPKM)"], "scale": {"domain": [0, 150], "nice": false}, "axis": {"values": [0, 50, 100, 150], "labelOverlap": false, "tickSize": 3, "labelPadding": 1, "titlePadding": 2, "titleLineHeight": 14}},
      "y": {"field": "y", "type": "quantitative", "title": ["Differential expression", "(fold)"], "scale": {"domain": [0, 45.9], "nice": false}, "axis": {"values": [0, 10, 20, 30, 40], "domain": false, "labelOverlap": false, "tickSize": 3, "labelPadding": 1, "titlePadding": 2, "titleY": 74}},
      "color": {"field": "r", "type": "nominal", "scale": {"domain": ["o", "t", "c"], "range": ["#111111", "#b02a3c", "#2a8a5c"]}, "legend": null}}},
    {"data": {"values": [{}]}, "mark": {"type": "rule", "color": "#222222", "strokeWidth": 1.4}, "encoding": {"x": {"datum": 0}, "y": {"datum": 0}, "y2": {"datum": 40}}},
    {"data": {"name": "s3k"}, "mark": {"type": "rule", "color": "#222222", "strokeWidth": 0.9},
     "encoding": {"x": {"field": "x1", "type": "quantitative", "title": ["Absolute expression", "(RPKM)"]}, "y": {"field": "y1", "type": "quantitative", "title": ["Differential expression", "(fold)"]}, "x2": {"field": "x2"}, "y2": {"field": "y2"}}},
    {"data": {"name": "s3l"}, "mark": {"type": "text", "fontSize": 10, "fontStyle": "italic", "align": "left", "baseline": "middle"},
     "encoding": {"x": {"field": "lx", "type": "quantitative", "title": ["Absolute expression", "(RPKM)"]}, "y": {"field": "ly", "type": "quantitative", "title": ["Differential expression", "(fold)"]}, "text": {"field": "g"}, "color": {"field": "r", "type": "nominal", "legend": null}}}
   ]},
  {"spacing": 46,
   "resolve": {"scale": {"color": "independent", "shape": "independent", "stroke": "independent"}},
   "hconcat": [
    {"width": 197, "height": 124, "title": {"text": "siMET"}, "data": {"name": "g5"},
     "layer": [
      {"mark": {"type": "line", "strokeWidth": 2.6, "interpolate": "monotone"}, "encoding": {"x": {"field": "d", "type": "quantitative", "title": "Day", "scale": {"domain": [0, 6], "nice": false, "zero": false}, "axis": {"values": [0, 2, 4, 6], "labelPadding": 6, "tickSize": 5, "labelOverlap": false}}, "y": {"field": "f", "type": "quantitative", "title": "Cell number (x10³)", "scale": {"domain": [0, 25], "nice": false}, "axis": {"values": [0, 5, 10, 15, 20, 25], "tickSize": 5, "labelOverlap": false}}, "stroke": {"field": "s", "type": "nominal", "scale": {"domain": ["siMET", "siNTC"], "range": ["#e5262c", "#3b50a0"]}, "legend": null}}},
      {"transform": [{"filter": "isValid(datum.lo)"}], "mark": {"type": "rule", "strokeWidth": 1.3}, "encoding": {"x": {"field": "d", "type": "quantitative", "title": "Day"}, "y": {"field": "lo", "type": "quantitative", "title": "Cell number (x10³)"}, "y2": {"field": "hi"}, "stroke": {"field": "s", "type": "nominal", "legend": null}}},
      {"transform": [{"filter": "isValid(datum.lo)"}], "mark": {"type": "rule", "strokeWidth": 1.3, "xOffset": -3.5, "x2Offset": 3.5}, "encoding": {"x": {"field": "d", "type": "quantitative", "title": "Day"}, "x2": {"field": "d"}, "y": {"field": "lo", "type": "quantitative", "title": "Cell number (x10³)"}, "stroke": {"field": "s", "type": "nominal", "legend": null}}},
      {"transform": [{"filter": "isValid(datum.lo)"}], "mark": {"type": "rule", "strokeWidth": 1.3, "xOffset": -3.5, "x2Offset": 3.5}, "encoding": {"x": {"field": "d", "type": "quantitative", "title": "Day"}, "x2": {"field": "d"}, "y": {"field": "hi", "type": "quantitative", "title": "Cell number (x10³)"}, "stroke": {"field": "s", "type": "nominal", "legend": null}}},
      {"transform": [{"filter": "isValid(datum.m)"}], "mark": {"type": "point", "filled": true, "size": 30, "opacity": 1}, "encoding": {"x": {"field": "d", "type": "quantitative", "title": "Day"}, "y": {"field": "m", "type": "quantitative", "title": "Cell number (x10³)"}, "color": {"field": "s", "type": "nominal", "title": null, "scale": {"domain": ["siNTC", "siMET"], "range": ["#3b50a0", "#e5262c"]}, "legend": {"orient": "none", "legendX": 14, "legendY": 3}}, "shape": {"field": "s", "type": "nominal", "title": null, "scale": {"domain": ["siNTC", "siMET"], "range": ["circle", "square"]}}}},
      {"data": {"values": [{}]}, "mark": {"type": "rule", "color": "#333333", "strokeWidth": 1.2}, "encoding": {"x": {"datum": 6.38}, "y": {"datum": 18.7}, "y2": {"datum": 3.2}}},
      {"data": {"values": [{}]}, "mark": {"type": "rule", "color": "#333333", "strokeWidth": 1.2}, "encoding": {"x": {"datum": 6.14}, "x2": {"datum": 6.6}, "y": {"datum": 18.7}}},
      {"data": {"values": [{}]}, "mark": {"type": "rule", "color": "#333333", "strokeWidth": 1.2}, "encoding": {"x": {"datum": 6.14}, "x2": {"datum": 6.6}, "y": {"datum": 3.2}}},
      {"data": {"values": [{}]}, "mark": {"type": "text", "fontSize": 8, "align": "left", "baseline": "middle", "color": "#333333"}, "encoding": {"x": {"datum": 6.55}, "y": {"datum": 11.3}, "text": {"value": "****"}}}
     ]},
    {"width": 197, "height": 124, "title": {"text": "siPLK2"}, "data": {"name": "g6"},
     "layer": [
      {"mark": {"type": "line", "strokeWidth": 2.6, "interpolate": "monotone"}, "encoding": {"x": {"field": "d", "type": "quantitative", "title": "Day", "scale": {"domain": [0, 6], "nice": false, "zero": false}, "axis": {"values": [0, 2, 4, 6], "labelPadding": 6, "tickSize": 5, "labelOverlap": false}}, "y": {"field": "f", "type": "quantitative", "title": "Cell number (x10³)", "scale": {"domain": [0, 50], "nice": false}, "axis": {"values": [0, 10, 20, 30, 40, 50], "tickSize": 5, "labelOverlap": false}}, "stroke": {"field": "s", "type": "nominal", "scale": {"domain": ["si-2 PLK2", "si-1 PLK2", "siNTC"], "range": ["#56b65a", "#1e6b34", "#3b50a0"]}, "legend": null}}},
      {"transform": [{"filter": "isValid(datum.lo)"}], "mark": {"type": "rule", "strokeWidth": 1.3}, "encoding": {"x": {"field": "d", "type": "quantitative", "title": "Day"}, "y": {"field": "lo", "type": "quantitative", "title": "Cell number (x10³)"}, "y2": {"field": "hi"}, "stroke": {"field": "s", "type": "nominal", "legend": null}}},
      {"transform": [{"filter": "isValid(datum.lo)"}], "mark": {"type": "rule", "strokeWidth": 1.3, "xOffset": -3.5, "x2Offset": 3.5}, "encoding": {"x": {"field": "d", "type": "quantitative", "title": "Day"}, "x2": {"field": "d"}, "y": {"field": "lo", "type": "quantitative", "title": "Cell number (x10³)"}, "stroke": {"field": "s", "type": "nominal", "legend": null}}},
      {"transform": [{"filter": "isValid(datum.lo)"}], "mark": {"type": "rule", "strokeWidth": 1.3, "xOffset": -3.5, "x2Offset": 3.5}, "encoding": {"x": {"field": "d", "type": "quantitative", "title": "Day"}, "x2": {"field": "d"}, "y": {"field": "hi", "type": "quantitative", "title": "Cell number (x10³)"}, "stroke": {"field": "s", "type": "nominal", "legend": null}}},
      {"transform": [{"filter": "isValid(datum.m)"}], "mark": {"type": "point", "filled": true, "size": 30, "opacity": 1}, "encoding": {"x": {"field": "d", "type": "quantitative", "title": "Day"}, "y": {"field": "m", "type": "quantitative", "title": "Cell number (x10³)"}, "color": {"field": "s", "type": "nominal", "title": null, "scale": {"domain": ["siNTC", "si-1 PLK2", "si-2 PLK2"], "range": ["#3b50a0", "#1e6b34", "#56b65a"]}, "legend": {"orient": "none", "legendX": 14, "legendY": 3}}, "shape": {"field": "s", "type": "nominal", "title": null, "scale": {"domain": ["siNTC", "si-1 PLK2", "si-2 PLK2"], "range": ["circle", "square", "triangle-up"]}}}}
     ]}
   ]}
 ]
},
{
 "title": {"text": "PANC-1", "anchor": "start", "fontSize": 22, "fontWeight": "bold", "color": "#111111", "offset": -3},
 "spacing": 44,
 "resolve": {"scale": {"color": "independent", "shape": "independent", "stroke": "independent"}},
 "hconcat": [
  {"width": 157, "height": 124,
   "layer": [
    {"data": {"name": "s4"}, "mark": {"type": "circle", "size": 20, "opacity": 1},
     "encoding": {"x": {"field": "x", "type": "quantitative", "title": ["Absolute expression", "(RPKM)"], "scale": {"domain": [0, 200, 400, 500], "range": [0, 108, 142, 157], "nice": false, "zero": false}, "axis": {"values": [0, 50, 100, 150, 200, 400, 500], "labelOverlap": false, "tickSize": 3, "labelPadding": 1, "titlePadding": 2, "titleLineHeight": 14}},
      "y": {"field": "y", "type": "quantitative", "title": ["Differential expression", "(fold)"], "scale": {"domain": [0, 46.4], "nice": false}, "axis": {"values": [0, 10, 20, 30, 40], "domain": false, "labelOverlap": false, "tickSize": 3, "labelPadding": 1, "titlePadding": 2, "titleY": 74}},
      "color": {"field": "r", "type": "nominal", "scale": {"domain": ["o", "t", "c"], "range": ["#111111", "#b02a3c", "#2a8a5c"]}, "legend": null}}},
    {"data": {"values": [{}]}, "mark": {"type": "rule", "color": "#222222", "strokeWidth": 1.4}, "encoding": {"x": {"datum": 0}, "y": {"datum": 0}, "y2": {"datum": 40}}},
    {"data": {"name": "s4k"}, "mark": {"type": "rule", "color": "#222222", "strokeWidth": 0.9},
     "encoding": {"x": {"field": "x1", "type": "quantitative", "title": ["Absolute expression", "(RPKM)"]}, "y": {"field": "y1", "type": "quantitative", "title": ["Differential expression", "(fold)"]}, "x2": {"field": "x2"}, "y2": {"field": "y2"}}},
    {"data": {"name": "s4l"}, "mark": {"type": "text", "fontSize": 10, "fontStyle": "italic", "align": "left", "baseline": "middle"},
     "encoding": {"x": {"field": "lx", "type": "quantitative", "title": ["Absolute expression", "(RPKM)"]}, "y": {"field": "ly", "type": "quantitative", "title": ["Differential expression", "(fold)"]}, "text": {"field": "g"}, "color": {"field": "r", "type": "nominal", "legend": null}}}
   ]},
  {"spacing": 32,
   "resolve": {"scale": {"color": "independent", "shape": "independent", "stroke": "independent"}},
   "hconcat": [
    {"width": 197, "height": 124, "title": {"text": "siAKT2"}, "data": {"name": "g7"},
     "layer": [
      {"mark": {"type": "line", "strokeWidth": 2.6, "interpolate": "monotone"}, "encoding": {"x": {"field": "d", "type": "quantitative", "title": "Day", "scale": {"domain": [0, 6], "nice": false, "zero": false}, "axis": {"values": [0, 2, 4, 6], "labelPadding": 6, "tickSize": 5, "labelOverlap": false}}, "y": {"field": "f", "type": "quantitative", "title": "Cell number (x10³)", "scale": {"domain": [0, 100], "nice": false}, "axis": {"values": [0, 20, 40, 60, 80, 100], "tickSize": 5, "labelOverlap": false}}, "stroke": {"field": "s", "type": "nominal", "scale": {"domain": ["si-2 AKT2", "si-1 AKT2", "siNTC"], "range": ["#f29b9b", "#e5262c", "#3b50a0"]}, "legend": null}}},
      {"transform": [{"filter": "isValid(datum.lo)"}], "mark": {"type": "rule", "strokeWidth": 1.3}, "encoding": {"x": {"field": "d", "type": "quantitative", "title": "Day"}, "y": {"field": "lo", "type": "quantitative", "title": "Cell number (x10³)"}, "y2": {"field": "hi"}, "stroke": {"field": "s", "type": "nominal", "legend": null}}},
      {"transform": [{"filter": "isValid(datum.lo)"}], "mark": {"type": "rule", "strokeWidth": 1.3, "xOffset": -3.5, "x2Offset": 3.5}, "encoding": {"x": {"field": "d", "type": "quantitative", "title": "Day"}, "x2": {"field": "d"}, "y": {"field": "lo", "type": "quantitative", "title": "Cell number (x10³)"}, "stroke": {"field": "s", "type": "nominal", "legend": null}}},
      {"transform": [{"filter": "isValid(datum.lo)"}], "mark": {"type": "rule", "strokeWidth": 1.3, "xOffset": -3.5, "x2Offset": 3.5}, "encoding": {"x": {"field": "d", "type": "quantitative", "title": "Day"}, "x2": {"field": "d"}, "y": {"field": "hi", "type": "quantitative", "title": "Cell number (x10³)"}, "stroke": {"field": "s", "type": "nominal", "legend": null}}},
      {"transform": [{"filter": "isValid(datum.m)"}], "mark": {"type": "point", "filled": true, "size": 30, "opacity": 1}, "encoding": {"x": {"field": "d", "type": "quantitative", "title": "Day"}, "y": {"field": "m", "type": "quantitative", "title": "Cell number (x10³)"}, "color": {"field": "s", "type": "nominal", "title": null, "scale": {"domain": ["siNTC", "si-1 AKT2", "si-2 AKT2"], "range": ["#3b50a0", "#e5262c", "#f29b9b"]}, "legend": {"orient": "none", "legendX": 14, "legendY": 3}}, "shape": {"field": "s", "type": "nominal", "title": null, "scale": {"domain": ["siNTC", "si-1 AKT2", "si-2 AKT2"], "range": ["circle", "square", "triangle-up"]}}}},
      {"data": {"values": [{}]}, "mark": {"type": "rule", "color": "#333333", "strokeWidth": 1.2}, "encoding": {"x": {"datum": 6.12}, "x2": {"datum": 6.95}, "y": {"datum": 88.5}}},
      {"data": {"values": [{}]}, "mark": {"type": "rule", "color": "#333333", "strokeWidth": 1.2}, "encoding": {"x": {"datum": 6.33}, "y": {"datum": 88.5}, "y2": {"datum": 47}}},
      {"data": {"values": [{}]}, "mark": {"type": "rule", "color": "#333333", "strokeWidth": 1.2}, "encoding": {"x": {"datum": 6.12}, "x2": {"datum": 6.52}, "y": {"datum": 47}}},
      {"data": {"values": [{}]}, "mark": {"type": "rule", "color": "#333333", "strokeWidth": 1.2}, "encoding": {"x": {"datum": 6.79}, "y": {"datum": 88.5}, "y2": {"datum": 22}}},
      {"data": {"values": [{}]}, "mark": {"type": "rule", "color": "#333333", "strokeWidth": 1.2}, "encoding": {"x": {"datum": 6.6}, "x2": {"datum": 6.95}, "y": {"datum": 22}}},
      {"data": {"values": [{}]}, "mark": {"type": "text", "fontSize": 8, "align": "left", "baseline": "middle", "color": "#333333"}, "encoding": {"x": {"datum": 6.97}, "y": {"datum": 69}, "text": {"value": "****"}}}
     ]},
    {"width": 197, "height": 124, "title": {"text": "siPLK2"}, "data": {"name": "g8"},
     "layer": [
      {"mark": {"type": "line", "strokeWidth": 2.6, "interpolate": "monotone"}, "encoding": {"x": {"field": "d", "type": "quantitative", "title": "Day", "scale": {"domain": [0, 6], "nice": false, "zero": false}, "axis": {"values": [0, 2, 4, 6], "labelPadding": 6, "tickSize": 5, "labelOverlap": false}}, "y": {"field": "f", "type": "quantitative", "title": "Cell number (x10³)", "scale": {"domain": [0, 50], "nice": false}, "axis": {"values": [0, 10, 20, 30, 40, 50], "tickSize": 5, "labelOverlap": false}}, "stroke": {"field": "s", "type": "nominal", "scale": {"domain": ["si-2 PLK2", "si-1 PLK2", "siNTC"], "range": ["#56b65a", "#1e6b34", "#3b50a0"]}, "legend": null}}},
      {"transform": [{"filter": "isValid(datum.lo)"}], "mark": {"type": "rule", "strokeWidth": 1.3}, "encoding": {"x": {"field": "d", "type": "quantitative", "title": "Day"}, "y": {"field": "lo", "type": "quantitative", "title": "Cell number (x10³)"}, "y2": {"field": "hi"}, "stroke": {"field": "s", "type": "nominal", "legend": null}}},
      {"transform": [{"filter": "isValid(datum.lo)"}], "mark": {"type": "rule", "strokeWidth": 1.3, "xOffset": -3.5, "x2Offset": 3.5}, "encoding": {"x": {"field": "d", "type": "quantitative", "title": "Day"}, "x2": {"field": "d"}, "y": {"field": "lo", "type": "quantitative", "title": "Cell number (x10³)"}, "stroke": {"field": "s", "type": "nominal", "legend": null}}},
      {"transform": [{"filter": "isValid(datum.lo)"}], "mark": {"type": "rule", "strokeWidth": 1.3, "xOffset": -3.5, "x2Offset": 3.5}, "encoding": {"x": {"field": "d", "type": "quantitative", "title": "Day"}, "x2": {"field": "d"}, "y": {"field": "hi", "type": "quantitative", "title": "Cell number (x10³)"}, "stroke": {"field": "s", "type": "nominal", "legend": null}}},
      {"transform": [{"filter": "isValid(datum.m)"}], "mark": {"type": "point", "filled": true, "size": 30, "opacity": 1}, "encoding": {"x": {"field": "d", "type": "quantitative", "title": "Day"}, "y": {"field": "m", "type": "quantitative", "title": "Cell number (x10³)"}, "color": {"field": "s", "type": "nominal", "title": null, "scale": {"domain": ["siNTC", "si-1 PLK2", "si-2 PLK2"], "range": ["#3b50a0", "#1e6b34", "#56b65a"]}, "legend": {"orient": "none", "legendX": 14, "legendY": 3}}, "shape": {"field": "s", "type": "nominal", "title": null, "scale": {"domain": ["siNTC", "si-1 PLK2", "si-2 PLK2"], "range": ["circle", "square", "triangle-up"]}}}}
     ]}
   ]}
 ]
}
]
}
